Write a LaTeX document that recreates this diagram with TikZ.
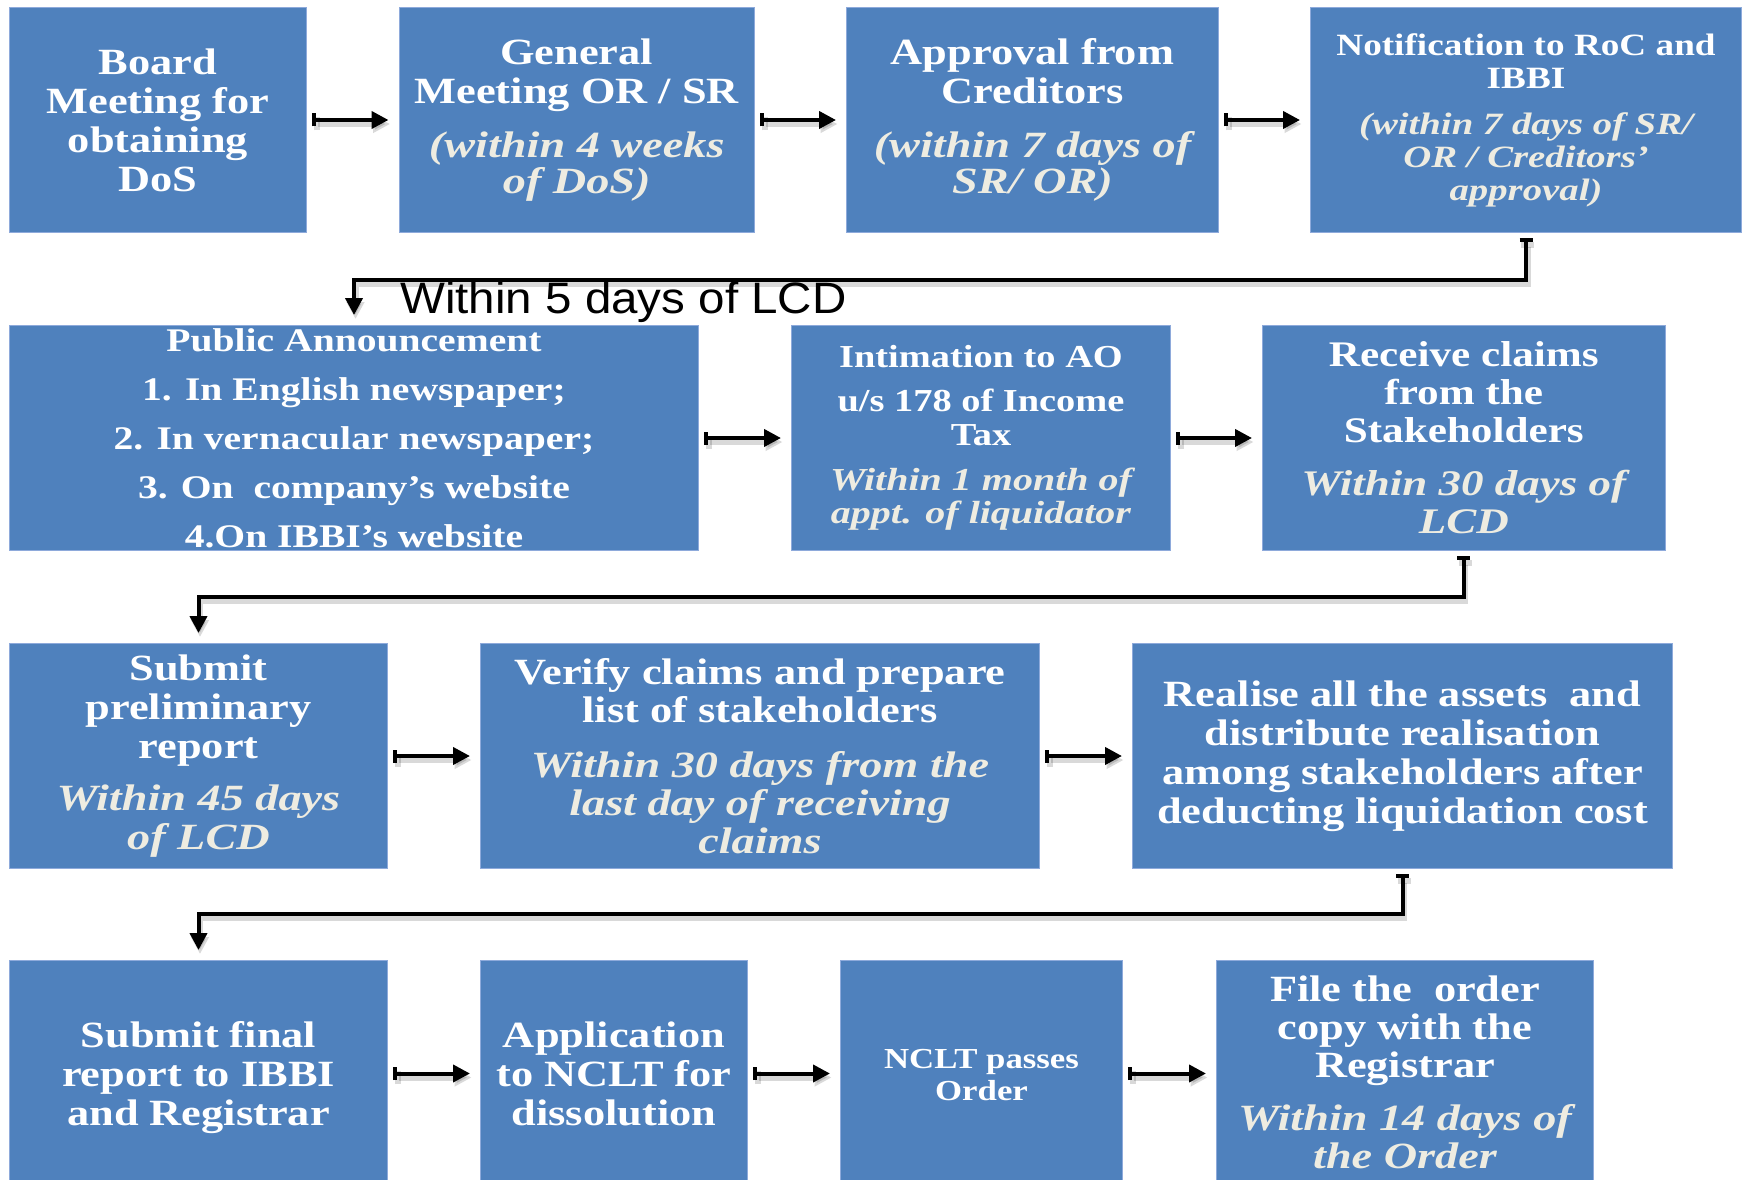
\documentclass[tikz,border=0pt]{standalone}
\usepackage{fontspec}
\setmainfont{Liberation Serif}
\newfontfamily\boxfont[FakeStretch=1.2]{Liberation Serif}
\newfontfamily\notefont[FakeStretch=1.25]{Liberation Serif}
\newfontfamily\labelfont[FakeStretch=1.08]{Liberation Sans}
\usetikzlibrary{arrows.meta}
\definecolor{boxblue}{HTML}{4F81BD}
\definecolor{boxedge}{HTML}{8EAADB}
\definecolor{notecream}{HTML}{EEECE1}
% italic deadline line inside a step box
\newcommand{\nt}[1]{{\notefont\bfseries\itshape\color{notecream}#1}}
\tikzset{
  box/.style={fill=boxblue, draw=boxedge, line width=1pt, anchor=north west, inner sep=0pt},
  txt/.style 2 args={text=white, align=center, inner sep=0pt,
    font=\boxfont\bfseries\fontsize{#1}{#2}\selectfont},
  flow/.style={line width=4pt, {Bar[width=13pt]}-{Triangle[length=17pt,width=17pt]},
    shorten <=5pt, shorten >=10pt,
    preaction={draw=black, opacity=0.15, line width=6pt,
      transform canvas={shift={(1.5pt,-4pt)}}}}
}
\begin{document}
\begin{tikzpicture}[x=1pt,y=-1pt]
\clip (0,0) rectangle (1743,1180);
\fill[white] (0,0) rectangle (1743,1180);

% row 1
\node[box, minimum width=297pt, minimum height=225pt] (b1) at (9,7) {};
\node[box, minimum width=355.5pt, minimum height=225pt] (b2) at (398.5,7) {};
\node[box, minimum width=372pt, minimum height=225pt] (b3) at (846,7) {};
\node[box, minimum width=431pt, minimum height=225pt] (b4) at (1310,7) {};
% row 2
\node[box, minimum width=689pt, minimum height=225pt] (pa) at (9,325) {};
\node[box, minimum width=379pt, minimum height=225pt] (ao) at (791,325) {};
\node[box, minimum width=402.5pt, minimum height=225pt] (rc) at (1262,325) {};
% row 3
\node[box, minimum width=378pt, minimum height=225pt] (sp) at (9,643) {};
\node[box, minimum width=559pt, minimum height=225pt] (vc) at (480,643) {};
\node[box, minimum width=540pt, minimum height=225pt] (ra) at (1132,643) {};
% row 4
\node[box, minimum width=378pt, minimum height=230pt] (sf) at (9,960) {};
\node[box, minimum width=267pt, minimum height=230pt] (ap) at (480,960) {};
\node[box, minimum width=282pt, minimum height=230pt] (nc) at (840,960) {};
\node[box, minimum width=377pt, minimum height=230pt] (fo) at (1216,960) {};

% texts
\node[txt={37}{39}] (b1t) at (b1.center) {Board\\Meeting for\\obtaining\\DoS};
\node[txt={37}{39}] (b2t) at (b2.center) {General\\Meeting OR / SR\\[15pt]\nt{(within 4 weeks}\\[-3pt]\nt{of DoS)}};
\node[txt={37}{39}] (b3t) at (b3.center) {Approval from\\Creditors\\[15pt]\nt{(within 7 days of}\\[-3pt]\nt{SR/ OR)}};
\node[txt={31}{33}] (b4t) at (b4.center) {Notification to RoC and\\IBBI\\[13pt]\nt{(within 7 days of SR/}\\\nt{OR / Creditors’}\\\nt{approval)}};

\node[txt={33}{49}] (pat) at (pa.center) {Public Announcement\\1. In English newspaper;\\2. In vernacular newspaper;\\3. On\ \ company’s website\\4.On IBBI’s website};
\node[txt={32}{34}] (aot) at (ao.center) {Intimation to AO\\[10pt]u/s 178 of Income\\Tax\\[11pt]\nt{Within 1 month of}\\[-1pt]\nt{appt. of liquidator}};
\node[txt={36}{38}] (rct) at (rc.center) {Receive claims\\from the\\Stakeholders\\[15pt]\nt{Within 30 days of}\\\nt{LCD}};

\node[txt={37}{39}] (spt) at (sp.center) {Submit\\preliminary\\report\\[13pt]\nt{Within 45 days}\\\nt{of LCD}};
\node[txt={37}{38}] (vct) at (vc.center) {Verify claims and prepare\\list of stakeholders\\[17pt]\nt{Within 30 days from the}\\\nt{last day of receiving}\\\nt{claims}};
\node[txt={37}{39}] (rat) at (ra.center) {Realise all the assets\ \ and\\distribute realisation\\among stakeholders after\\deducting liquidation cost};

\node[txt={37}{39}] (sft) at ([yshift=-2pt]sf.center) {Submit final\\report to IBBI\\and Registrar};
\node[txt={37}{39}] (apt) at ([yshift=2pt]ap.center) {Application\\to NCLT for\\dissolution};
\node[txt={29}{32}] (nct) at (nc.center) {NCLT passes\\Order};
\node[txt={37}{38}] (fot) at ([yshift=3pt]fo.center) {File the\ \ order\\copy with the\\Registrar\\[15pt]\nt{Within 14 days of}\\\nt{the Order}};

% connectors
\draw[flow] (b1.east) -- (b2.west);
\draw[flow] (b2.east) -- (b3.west);
\draw[flow] (b3.east) -- (b4.west);
\draw[flow] (b4.south) -- ++(0,47) -| (pa.north);

\draw[flow] (pa.east) -- (ao.west);
\draw[flow] (ao.east) -- (rc.west);
\draw[flow] (rc.south) -- ++(0,46) -| (sp.north);

\draw[flow] (sp.east) -- (vc.west);
\draw[flow] (vc.east) -- (ra.west);
\draw[flow] (ra.south) -- ++(0,45) -| (sf.north);

\draw[flow] ([yshift=2pt]sf.east) -- ([yshift=2pt]ap.west);
\draw[flow] ([yshift=2pt]ap.east) -- ([yshift=2pt]nc.west);
\draw[flow] ([yshift=2pt]nc.east) -- ([yshift=2pt]fo.west);

\node[anchor=base west, inner sep=0pt, font=\labelfont\fontsize{44}{44}\selectfont] (lcd) at (400,313) {Within 5 days of LCD};
\end{tikzpicture}
\end{document}
